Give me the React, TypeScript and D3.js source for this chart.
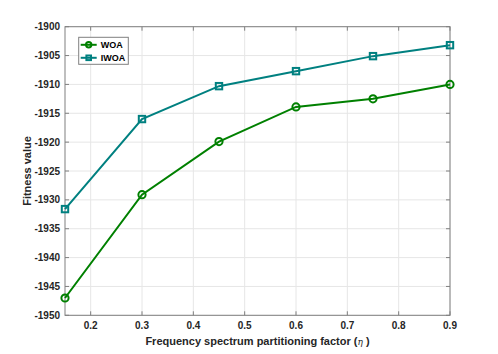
import React, { useEffect, useRef } from 'react';
import * as d3 from 'd3';

const xValues = [0.15, 0.3, 0.45, 0.6, 0.75, 0.9];
const woaValues = [-1947.0, -1929.1, -1919.9, -1913.9, -1912.5, -1910.0];
const iwoaValues = [-1931.6, -1916.0, -1910.3, -1907.7, -1905.1, -1903.2];
const xTicks = [0.2, 0.3, 0.4, 0.5, 0.6, 0.7, 0.8, 0.9];
const yTicks = [-1950, -1945, -1940, -1935, -1930, -1925, -1920, -1915, -1910, -1905, -1900];

const W = 498;
const H = 354;

const App = () => {
  const svgRef = useRef<SVGSVGElement>(null);

  useEffect(() => {
    const svg = d3.select(svgRef.current);
    svg.selectAll('*').remove();

    const margin = { top: 26.7, right: 48, bottom: 38.7, left: 65 };
    const x = d3.scaleLinear().domain([0.15, 0.9]).range([margin.left, W - margin.right]);
    const y = d3.scaleLinear().domain([-1950, -1900]).range([H - margin.bottom, margin.top]);
    const font = 'Liberation Sans, Arial, sans-serif';

    const g = svg.append('g');

    // grid
    g.selectAll('.gx').data(xTicks).join('line')
      .attr('x1', d => x(d)).attr('x2', d => x(d))
      .attr('y1', y(-1950)).attr('y2', y(-1900))
      .attr('stroke', '#e6e6e6').attr('stroke-width', 1);
    g.selectAll('.gy').data(yTicks).join('line')
      .attr('x1', x(0.15)).attr('x2', x(0.9))
      .attr('y1', d => y(d)).attr('y2', d => y(d))
      .attr('stroke', '#e6e6e6').attr('stroke-width', 1);

    // box
    g.append('rect')
      .attr('x', x(0.15)).attr('y', y(-1900))
      .attr('width', x(0.9) - x(0.15)).attr('height', y(-1950) - y(-1900))
      .attr('fill', 'none').attr('stroke', '#808080').attr('stroke-width', 1);

    // ticks (inward, both sides)
    const tl = 4;
    xTicks.forEach(t => {
      g.append('line').attr('x1', x(t)).attr('x2', x(t)).attr('y1', y(-1950)).attr('y2', y(-1950) - tl).attr('stroke', '#808080');
      g.append('line').attr('x1', x(t)).attr('x2', x(t)).attr('y1', y(-1900)).attr('y2', y(-1900) + tl).attr('stroke', '#808080');
    });
    yTicks.forEach(t => {
      g.append('line').attr('x1', x(0.15)).attr('x2', x(0.15) + tl).attr('y1', y(t)).attr('y2', y(t)).attr('stroke', '#808080');
      g.append('line').attr('x1', x(0.9)).attr('x2', x(0.9) - tl).attr('y1', y(t)).attr('y2', y(t)).attr('stroke', '#808080');
    });

    // tick labels
    g.selectAll('.xl').data(xTicks).join('text')
      .attr('x', d => x(d)).attr('y', y(-1950) + 14)
      .attr('text-anchor', 'middle')
      .style('font-family', font).style('font-size', '10px').style('font-weight', 'bold').style('fill', '#262626')
      .text(d => d.toFixed(1));
    g.selectAll('.yl').data(yTicks).join('text')
      .attr('x', x(0.15) - 5).attr('y', d => y(d)).attr('dy', '0.35em')
      .attr('text-anchor', 'end')
      .style('font-family', font).style('font-size', '10px').style('font-weight', 'bold').style('fill', '#262626')
      .text(d => d);

    // axis labels
    const xl = g.append('text')
      .attr('x', (x(0.15) + x(0.9)) / 2).attr('y', 345)
      .attr('text-anchor', 'middle')
      .style('font-family', font).style('font-size', '11px').style('font-weight', 'bold').style('fill', '#262626');
    xl.append('tspan').text('Frequency spectrum partitioning factor (');
    xl.append('tspan').style('font-style', 'italic').style('font-weight', 'normal').style('font-family', 'DejaVu Serif, serif').style('font-size', '9px').text('η');
    xl.append('tspan').text(' )');

    g.append('text')
      .attr('transform', `translate(31, ${(y(-1950) + y(-1900)) / 2}) rotate(-90)`)
      .attr('text-anchor', 'middle')
      .style('font-family', font).style('font-size', '11px').style('font-weight', 'bold').style('fill', '#262626')
      .text('Fitness value');

    const series = [
      { name: 'WOA', values: woaValues, color: '#008000', marker: 'circle' },
      { name: 'IWOA', values: iwoaValues, color: '#008080', marker: 'square' },
    ];

    const line = d3.line<number>().x((_, i) => x(xValues[i])).y(d => y(d));

    const drawMarker = (sel: any, kind: string, cx: number, cy: number, color: string, size: number) => {
      if (kind === 'circle') {
        sel.append('circle').attr('cx', cx).attr('cy', cy).attr('r', size / 2 + 0.4)
          .attr('fill', 'none').attr('stroke', color).attr('stroke-width', 2);
      } else {
        sel.append('rect').attr('x', cx - size / 2).attr('y', cy - size / 2).attr('width', size).attr('height', size)
          .attr('fill', 'none').attr('stroke', color).attr('stroke-width', 2);
      }
    };

    series.forEach(s => {
      g.append('path').datum(s.values).attr('d', line)
        .attr('fill', 'none').attr('stroke', s.color).attr('stroke-width', 2);
      s.values.forEach((v, i) => drawMarker(g, s.marker, x(xValues[i]), y(v), s.color, 6.4));
    });

    // legend
    const lx = 78.7, ly = 37.3, lw = 49.6, lh = 27;
    const leg = g.append('g');
    leg.append('rect').attr('x', lx).attr('y', ly).attr('width', lw).attr('height', lh)
      .attr('fill', '#fff').attr('stroke', '#808080').attr('stroke-width', 1);
    series.forEach((s, i) => {
      const cy = ly + 7.5 + i * 13;
      leg.append('line').attr('x1', lx + 2).attr('x2', lx + 18).attr('y1', cy).attr('y2', cy)
        .attr('stroke', s.color).attr('stroke-width', 2);
      drawMarker(leg, s.marker, lx + 10, cy, s.color, 4.6);
      leg.append('text').attr('x', lx + 22).attr('y', cy).attr('dy', '0.35em')
        .style('font-family', font).style('font-size', '9px').style('font-weight', 'bold').style('fill', '#000')
        .text(s.name);
    });
  }, []);

  return <svg ref={svgRef} width={W} height={H} style={{ position: 'absolute', left: 0, top: 0, background: '#fff' }} />;
};

export default App;
